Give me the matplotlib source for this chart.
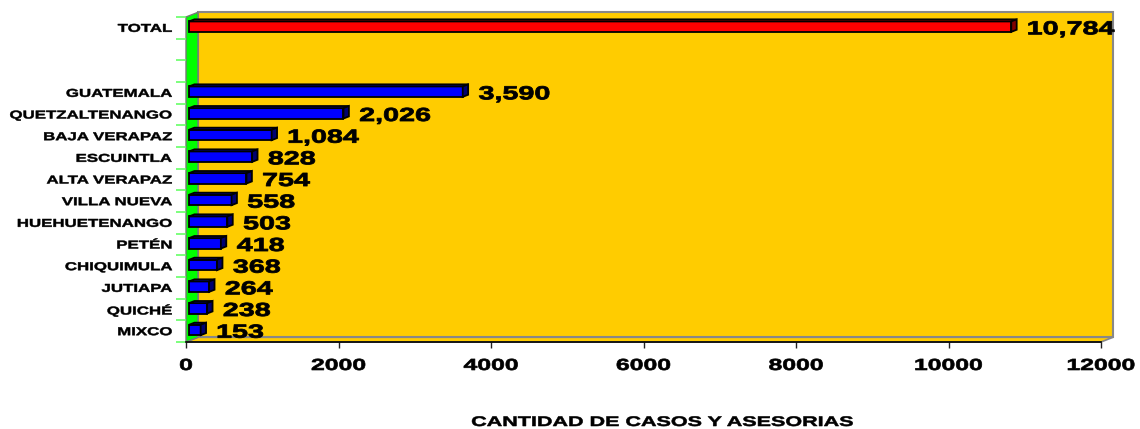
import matplotlib
matplotlib.use("Agg")
import matplotlib.pyplot as plt
from matplotlib.patches import Polygon
from matplotlib import patheffects
from matplotlib.transforms import Affine2D

plt.rcParams['font.family'] = ['Liberation Sans', 'DejaVu Sans']
plt.rcParams['font.weight'] = 'bold'

total = 10784
departamentos = ["GUATEMALA", "QUETZALTENANGO", "BAJA VERAPAZ", "ESCUINTLA",
                 "ALTA VERAPAZ", "VILLA NUEVA", "HUEHUETENANGO", "PETÉN",
                 "CHIQUIMULA", "JUTIAPA", "QUICHÉ", "MIXCO"]
casos = [3590, 2026, 1084, 828, 754, 558, 503, 418, 368, 264, 238, 153]
x_ticks = [0, 2000, 4000, 6000, 8000, 10000, 12000]
x_label = "CANTIDAD DE CASOS Y ASESORIAS"

# TOTAL on top, two empty rows, then the departments
etiquetas = ["TOTAL", "", ""] + departamentos
valores = [total, None, None] + casos


class Stretch(patheffects.AbstractPathEffect):
    # the original text is drawn wide and heavy, so stretch glyphs and add a stroke
    def __init__(self, sx, anchor='left', lw=0.0):
        super().__init__()
        self.sx = sx
        self.anchor = anchor
        self.lw = lw

    def draw_path(self, renderer, gc, tpath, affine, rgbFace=None):
        ext = tpath.get_extents()
        px = {'left': ext.x0, 'right': ext.x1, 'center': (ext.x0 + ext.x1) / 2}[self.anchor]
        st = Affine2D().translate(-px, 0).scale(self.sx, 1).translate(px, 0)
        gc0 = renderer.new_gc()
        gc0.copy_properties(gc)
        if self.lw > 0:
            gc0.set_linewidth(self.lw)
            gc0.set_foreground(rgbFace if rgbFace is not None else 'black')
            gc0.set_joinstyle('round')
        renderer.draw_path(gc0, tpath, st + affine, rgbFace)
        gc0.restore()


fig = plt.figure(figsize=(11.4, 4.29), dpi=100)
ax = fig.add_axes([186 / 1140, 1 - 342 / 429, 915 / 1140, 325 / 429])
n = len(etiquetas)
ax.set_xlim(0, 12000)
ax.set_ylim(n - 0.5, -0.5)
ax.patch.set_visible(False)
for s in ['top', 'right', 'left']:
    ax.spines[s].set_visible(False)
ax.spines['bottom'].set_linewidth(1.2)
ax.spines['bottom'].set_zorder(5)

ax.set_xticks(x_ticks)
ax.set_xticklabels([str(t) for t in x_ticks])
ax.tick_params(axis='x', length=4.5, width=1, color='#222222', pad=7, labelsize=11.5)
for t in ax.get_xticklabels():
    t.set_path_effects([Stretch(1.55, 'center', 0.5)])

ax.set_yticks([i - 0.5 for i in range(n + 1)])
ax.set_yticklabels([])
ax.set_yticks(range(n), etiquetas, minor=True)
ax.tick_params(axis='y', which='major', length=7, width=1.2, color='#66FF66')
ax.tick_params(axis='y', which='minor', length=0, pad=10, labelsize=8.2)
for t in ax.get_yticklabels(minor=True):
    t.set_path_effects([Stretch(1.48, 'right', 0.35)])

# depth of the 3d box, pixels
DX, DY = 12, 4.7
to_fig = fig.transFigure.inverted()


def pt(x, y, d):
    px, py = ax.transData.transform((x, y))
    return to_fig.transform((px + d * DX, py + d * DY))


def face(pts, fc, ec, lw=1.0, z=1):
    ax.add_patch(Polygon(pts, closed=True, facecolor=fc, edgecolor=ec, linewidth=lw,
                         transform=fig.transFigure, clip_on=False, zorder=z))


top, bot = -0.5, n - 0.5
# back wall, floor, side wall
face([pt(0, top, 1), pt(12000, top, 1), pt(12000, bot, 1), pt(0, bot, 1)], '#FFCC00', '#888888', 1.5, 0)
face([pt(0, bot, 0), pt(12000, bot, 0), pt(12000, bot, 1), pt(0, bot, 1)], '#FFCC00', '#888888', 1.2, 0.5)
face([pt(0, top, 0), pt(0, top, 1), pt(0, bot, 1), pt(0, bot, 0)], '#00FF00', '#777777', 1.0, 0.6)

# 3d bars
d0, d1, h = 0.25, 0.7, 0.24
for i, v in enumerate(valores):
    if v is None:
        continue
    if i == 0:
        cols = ('#FF0000', '#CC0000', '#800000')
    else:
        cols = ('#0000FF', '#0000C8', '#000070')
    face([pt(0, i + h, d0), pt(v, i + h, d0), pt(v, i - h, d0), pt(0, i - h, d0)], cols[0], 'black', 1.3, 3)
    face([pt(0, i - h, d0), pt(v, i - h, d0), pt(v, i - h, d1), pt(0, i - h, d1)], cols[1], 'black', 1.3, 3)
    face([pt(v, i + h, d0), pt(v, i - h, d0), pt(v, i - h, d1), pt(v, i + h, d1)], cols[2], 'black', 1.3, 3)
    lab = ax.annotate(f"{v:,}", xy=(v, i), xytext=(19, -2), textcoords='offset pixels',
                      ha='left', va='center', fontsize=13.6, fontweight='bold',
                      annotation_clip=False, zorder=6)
    lab.set_path_effects([Stretch(1.52, 'left', 0.6)])

xl = fig.text(662 / 1140, 1 - 422 / 429, x_label, ha='center', va='center',
              fontsize=10, fontweight='bold')
xl.set_path_effects([Stretch(1.55, 'center', 0.4)])

fig.savefig("out.png", dpi=100)
